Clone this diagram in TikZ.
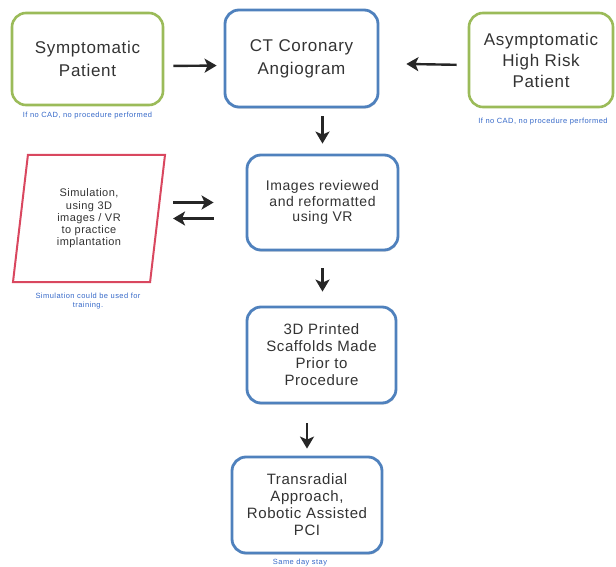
\documentclass[tikz,border=0pt]{standalone}
\usepackage{fontspec}
\setmainfont{Liberation Sans}[LetterSpace=4]
\newfontfamily\notefont[LetterSpace=6]{Liberation Sans}
\usetikzlibrary{positioning,calc,arrows.meta,shapes.geometric,shadows}

\definecolor{boxgreen}{HTML}{9BBB59}
\definecolor{boxblue}{HTML}{4F81BD}
\definecolor{boxred}{HTML}{D9475F}
\definecolor{txtgray}{HTML}{333333}
\definecolor{noteblue}{HTML}{3568C8}

\begin{document}
\begin{tikzpicture}[x=1pt, y=-1pt,
		base/.style={fill=white, text=txtgray, align=center, inner sep=2pt},
		greenbox/.style={base, draw=boxgreen, line width=2.6pt, rounded corners=14pt, font=\fontsize{17}{23}\selectfont},
		bluebox/.style={base, draw=boxblue, line width=2.8pt, rounded corners=14pt,
			drop shadow={shadow xshift=0.6pt, shadow yshift=-1.6pt, opacity=0.35}},
		simbox/.style={base, draw=boxred, line width=2pt, trapezium, trapezium left angle=76.7,
			trapezium right angle=103.3, trapezium stretches body, font=\fontsize{11}{12.2}\selectfont},
		note/.style={text=noteblue, align=center, inner sep=0pt, font=\notefont\fontsize{7.5}{9.5}\selectfont},
		arr/.style={-{Stealth[length=12pt,width=14pt,inset=3pt]}, line width=2.4pt, black!85}
		]
		\useasboundingbox (0,0) rectangle (616,567);
		
		% -------------------------------------------------
		% Patients and CT angiogram
		% -------------------------------------------------
		\node[greenbox, minimum width=151pt, minimum height=92pt] (sym) at (87.5,59) {Symptomatic\\Patient};
		\node[note] (symnote) at (87.5,116) {If no CAD, no procedure performed};
		
		\node[bluebox, minimum width=153pt, minimum height=97pt, font=\fontsize{17}{23}\selectfont] (ct) at (301.5,58.5) {CT Coronary\\Angiogram};
		
		\node[greenbox, minimum width=144pt, minimum height=94pt, font=\fontsize{17}{21}\selectfont] (asym) at (541,60) {Asymptomatic\\High Risk\\Patient};
		\node[note] (asymnote) at (543,122) {If no CAD, no procedure performed};
		
		% -------------------------------------------------
		% Review and simulation
		% -------------------------------------------------
		\node[bluebox, minimum width=151pt, minimum height=95pt, font=\fontsize{14}{15.5}\selectfont] (imgs) at (322.5,202.5) {Images reviewed\\and reformatted\\using VR};
		
		\node[simbox, minimum width=152pt, minimum height=127pt] (sim) at (89,218.5) {Simulation,\\using 3D\\images / VR\\to practice\\implantation};
		\node[note] (simnote) at (88,301) {Simulation could be used for\\training.};
		
		% -------------------------------------------------
		% Printing and PCI
		% -------------------------------------------------
		\node[bluebox, minimum width=149pt, minimum height=96pt, font=\fontsize{15}{17}\selectfont] (print) at (321.5,355) {3D Printed\\Scaffolds Made\\Prior to\\Procedure};
		
		\node[bluebox, minimum width=150pt, minimum height=96pt, font=\fontsize{15}{17}\selectfont] (pci) at (307,505) {Transradial\\Approach,\\Robotic Assisted\\PCI};
		\node[note] (pcinote) at (300,563) {Same day stay};
		
		% -------------------------------------------------
		% Arrows
		% -------------------------------------------------
		\draw[arr, shorten <=9pt, shorten >=7pt] ([yshift=-7pt]sym.east) -- ([yshift=-7pt]ct.west);
		\draw[arr, shorten <=11pt, shorten >=27pt] ([yshift=-5pt]asym.west) -- ([yshift=-5pt]ct.east);
		\draw[arr, shorten <=8pt, shorten >=10pt] (ct.south -| imgs.north) -- (imgs.north);
		\draw[arr, shorten <=17pt, shorten >=14pt] (imgs.south) -- (imgs.south |- print.north);
		\draw[arr, shorten <=19pt, shorten >=7pt] (print.south -| pci.north) -- (pci.north);
		\draw[arr, shorten <=14.5pt, shorten >=32pt] (sim.east |- imgs.west) -- (imgs.west);
		\draw[arr, shorten <=32pt, shorten >=14.5pt] (imgs.west |- sim.east) -- (sim.east);
		
	\end{tikzpicture}
\end{document}
